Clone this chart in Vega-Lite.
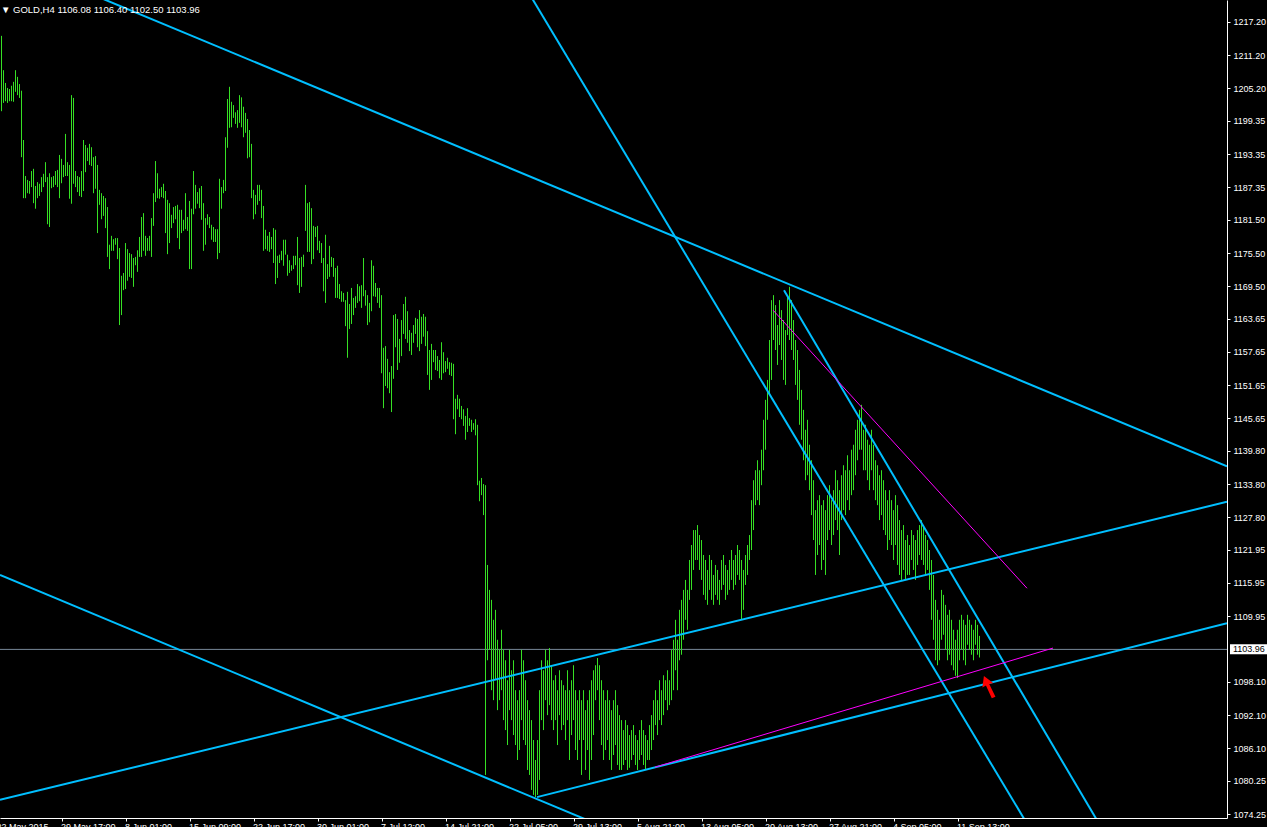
{
"$schema": "https://vega.github.io/schema/vega-lite/v6.json",
"width": 1227, "height": 818,
"autosize": {"type": "none"},
"padding": {"left": 0, "top": 0, "right": 40, "bottom": 9},
"background": "#000000",
"config": {"view": {"stroke": null}, "font": "Liberation Sans"},
"title": {"text": "▼ GOLD,H4  1106.08 1106.40 1102.50 1103.96", "anchor": "start", "frame": "group", "orient": "top", "offset": 0, "baseline": "top", "dy": 14, "dx": 1, "font": "Liberation Sans", "fontSize": 9.5, "fontWeight": "normal", "color": "#ffffff"},
"encoding": {
 "x": {"field": "i", "type": "quantitative", "scale": {"domain": [-0.75, 612.75], "nice": false, "zero": false},
  "axis": {"orient": "bottom", "title": null, "grid": false, "domainColor": "#ffffff", "tickColor": {"condition": {"test": "datum.value < 0", "value": "transparent"}, "value": "#ffffff"}, "tickSize": 3, "labelColor": "#ffffff", "labelFont": "Liberation Sans", "labelFontSize": 9, "labelAlign": "left", "labelBaseline": "top", "labelPadding": 1, "labelOffset": {"condition": {"test": "datum.value < 0", "value": -4}, "value": -1}, "labelOverlap": false, "labelBound": false, "labelFlush": false,
   "values": [-0.75, 30, 62, 94, 126, 158, 190, 222, 254, 286, 318, 350, 382, 414, 446, 478],
   "labelExpr": "datum.value < 0 ? '22 May 2015' : ['29 May 17:00','8 Jun 01:00','15 Jun 09:00','22 Jun 17:00','30 Jun 01:00','7 Jul 12:00','14 Jul 21:00','22 Jul 05:00','29 Jul 13:00','5 Aug 21:00','13 Aug 05:00','20 Aug 13:00','27 Aug 21:00','4 Sep 05:00','11 Sep 13:00'][round((datum.value - 30) / 32)]"}},
 "y": {"field": "p", "type": "quantitative", "scale": {"domain": [1073.53, 1221.17], "nice": false, "zero": false},
  "axis": {"orient": "right", "title": null, "grid": false, "domainColor": "#ffffff", "tickColor": "#ffffff", "tickSize": 3, "labelColor": "#ffffff", "labelFont": "Liberation Sans", "labelFontSize": 9, "labelPadding": 3, "labelBaseline": "middle", "labelOverlap": false, "labelBound": false, "labelFlush": false, "format": ".2f",
   "values": [1217.20, 1211.20, 1205.20, 1199.35, 1193.35, 1187.35, 1181.50, 1175.50, 1169.50, 1163.65, 1157.65, 1151.65, 1145.65, 1139.80, 1133.80, 1127.80, 1121.95, 1115.95, 1109.95, 1098.10, 1092.10, 1086.10, 1080.25, 1074.25]}}
},
"layer": [
 {"data": {"values": [{"p": 1103.96, "i": -0.75, "i2": 612.75}]}, "mark": {"type": "rule", "color": "#778899", "strokeWidth": 1}, "encoding": {"x2": {"field": "i2"}}},
 {"data": {"values": [
{"i":0,"p":1214.7,"p2":1201.1},{"i":1,"p":1208.5,"p2":1202.6},{"i":2,"p":1206.2,"p2":1202.9},{"i":3,"p":1205.3,"p2":1202.6},{"i":4,"p":1205.1,"p2":1202.9},{"i":5,"p":1205.7,"p2":1202.9},{"i":6,"p":1206.4,"p2":1202.8},{"i":7,"p":1208.5,"p2":1204.6},{"i":8,"p":1207.3,"p2":1204.0},{"i":9,"p":1206.0,"p2":1203.5},
{"i":10,"p":1204.8,"p2":1192.8},{"i":11,"p":1195.9,"p2":1185.4},{"i":12,"p":1189.4,"p2":1185.4},{"i":13,"p":1188.7,"p2":1186.3},{"i":14,"p":1188.5,"p2":1186.2},{"i":15,"p":1190.3,"p2":1187.4},{"i":16,"p":1190.7,"p2":1184.5},{"i":17,"p":1187.6,"p2":1183.5},{"i":18,"p":1188.3,"p2":1185.4},{"i":19,"p":1188.0,"p2":1185.8},
{"i":20,"p":1189.2,"p2":1186.5},{"i":21,"p":1189.8,"p2":1187.4},{"i":22,"p":1191.9,"p2":1188.3},{"i":23,"p":1189.2,"p2":1180.7},{"i":24,"p":1189.9,"p2":1180.2},{"i":25,"p":1189.2,"p2":1187.2},{"i":26,"p":1189.4,"p2":1187.4},{"i":27,"p":1190.3,"p2":1187.8},{"i":28,"p":1190.5,"p2":1187.4},{"i":29,"p":1193.2,"p2":1185.4},
{"i":30,"p":1192.5,"p2":1188.1},{"i":31,"p":1191.4,"p2":1189.2},{"i":32,"p":1197.0,"p2":1189.4},{"i":33,"p":1191.9,"p2":1189.4},{"i":34,"p":1191.4,"p2":1185.3},{"i":35,"p":1204.0,"p2":1184.4},{"i":36,"p":1203.5,"p2":1188.0},{"i":37,"p":1190.3,"p2":1187.4},{"i":38,"p":1189.4,"p2":1186.5},{"i":39,"p":1189.2,"p2":1185.8},
{"i":40,"p":1190.3,"p2":1185.6},{"i":41,"p":1195.9,"p2":1186.7},{"i":42,"p":1195.0,"p2":1190.1},{"i":43,"p":1194.5,"p2":1192.1},{"i":44,"p":1195.2,"p2":1191.4},{"i":45,"p":1194.6,"p2":1191.2},{"i":46,"p":1192.8,"p2":1186.3},{"i":47,"p":1193.0,"p2":1187.1},{"i":48,"p":1191.4,"p2":1179.1},{"i":49,"p":1186.9,"p2":1184.2},
{"i":50,"p":1186.3,"p2":1181.6},{"i":51,"p":1185.8,"p2":1182.2},{"i":52,"p":1185.4,"p2":1180.0},{"i":53,"p":1183.8,"p2":1174.8},{"i":54,"p":1177.0,"p2":1172.6},{"i":55,"p":1178.6,"p2":1175.9},{"i":56,"p":1178.0,"p2":1175.9},{"i":57,"p":1178.2,"p2":1177.0},{"i":58,"p":1178.2,"p2":1174.4},{"i":59,"p":1176.4,"p2":1162.5},
{"i":60,"p":1171.4,"p2":1164.3},{"i":61,"p":1171.9,"p2":1168.8},{"i":62,"p":1177.3,"p2":1169.0},{"i":63,"p":1176.2,"p2":1170.5},{"i":64,"p":1175.5,"p2":1171.2},{"i":65,"p":1175.3,"p2":1171.0},{"i":66,"p":1174.6,"p2":1169.4},{"i":67,"p":1174.8,"p2":1173.3},{"i":68,"p":1176.0,"p2":1172.1},{"i":69,"p":1178.4,"p2":1174.8},
{"i":70,"p":1182.0,"p2":1174.8},{"i":71,"p":1182.7,"p2":1175.9},{"i":72,"p":1178.6,"p2":1175.0},{"i":73,"p":1178.2,"p2":1175.9},{"i":74,"p":1178.6,"p2":1175.9},{"i":75,"p":1181.8,"p2":1174.8},{"i":76,"p":1186.3,"p2":1180.4},{"i":77,"p":1192.1,"p2":1184.7},{"i":78,"p":1189.9,"p2":1185.4},{"i":79,"p":1187.1,"p2":1185.3},
{"i":80,"p":1187.4,"p2":1185.6},{"i":81,"p":1188.0,"p2":1185.4},{"i":82,"p":1186.7,"p2":1179.1},{"i":83,"p":1185.1,"p2":1175.3},{"i":84,"p":1184.5,"p2":1177.3},{"i":85,"p":1182.4,"p2":1180.0},{"i":86,"p":1183.8,"p2":1180.9},{"i":87,"p":1184.0,"p2":1181.6},{"i":88,"p":1184.2,"p2":1178.2},{"i":89,"p":1183.3,"p2":1176.2},
{"i":90,"p":1183.3,"p2":1179.1},{"i":91,"p":1181.5,"p2":1179.5},{"i":92,"p":1186.3,"p2":1179.8},{"i":93,"p":1182.0,"p2":1179.5},{"i":94,"p":1184.9,"p2":1172.6},{"i":95,"p":1183.5,"p2":1172.6},{"i":96,"p":1190.3,"p2":1182.5},{"i":97,"p":1187.8,"p2":1183.5},{"i":98,"p":1186.5,"p2":1184.4},{"i":99,"p":1187.2,"p2":1183.6},
{"i":100,"p":1187.6,"p2":1181.5},{"i":101,"p":1184.5,"p2":1175.9},{"i":102,"p":1181.8,"p2":1177.0},{"i":103,"p":1182.5,"p2":1180.6},{"i":104,"p":1182.0,"p2":1180.0},{"i":105,"p":1180.6,"p2":1177.9},{"i":106,"p":1180.2,"p2":1177.5},{"i":107,"p":1179.8,"p2":1177.5},{"i":108,"p":1179.8,"p2":1174.4},{"i":109,"p":1188.9,"p2":1175.5},
{"i":110,"p":1187.4,"p2":1183.5},{"i":111,"p":1188.7,"p2":1186.3},{"i":112,"p":1196.4,"p2":1186.7},{"i":113,"p":1203.3,"p2":1194.5},{"i":114,"p":1205.5,"p2":1198.1},{"i":115,"p":1202.8,"p2":1198.2},{"i":116,"p":1202.2,"p2":1199.9},{"i":117,"p":1200.9,"p2":1198.8},{"i":118,"p":1201.3,"p2":1198.1},{"i":119,"p":1204.0,"p2":1199.0},
{"i":120,"p":1203.6,"p2":1198.2},{"i":121,"p":1201.9,"p2":1196.4},{"i":122,"p":1200.8,"p2":1197.2},{"i":123,"p":1199.7,"p2":1192.6},{"i":124,"p":1197.7,"p2":1192.8},{"i":125,"p":1195.2,"p2":1185.4},{"i":126,"p":1186.9,"p2":1181.6},{"i":127,"p":1186.0,"p2":1182.5},{"i":128,"p":1187.8,"p2":1184.2},{"i":129,"p":1187.8,"p2":1184.9},
{"i":130,"p":1186.9,"p2":1181.8},{"i":131,"p":1184.0,"p2":1175.9},{"i":132,"p":1179.7,"p2":1176.2},{"i":133,"p":1178.6,"p2":1175.9},{"i":134,"p":1179.3,"p2":1175.7},{"i":135,"p":1178.4,"p2":1176.2},{"i":136,"p":1180.0,"p2":1173.7},{"i":137,"p":1179.7,"p2":1169.9},{"i":138,"p":1175.0,"p2":1171.0},{"i":139,"p":1175.2,"p2":1173.7},
{"i":140,"p":1175.9,"p2":1174.2},{"i":141,"p":1177.9,"p2":1173.2},{"i":142,"p":1177.9,"p2":1175.2},{"i":143,"p":1175.2,"p2":1171.4},{"i":144,"p":1174.2,"p2":1171.9},{"i":145,"p":1173.3,"p2":1172.3},{"i":146,"p":1175.0,"p2":1172.6},{"i":147,"p":1175.0,"p2":1173.3},{"i":148,"p":1178.4,"p2":1169.7},{"i":149,"p":1174.6,"p2":1168.3},
{"i":150,"p":1174.8,"p2":1169.4},{"i":151,"p":1175.2,"p2":1173.0},{"i":152,"p":1187.8,"p2":1179.5},{"i":153,"p":1184.5,"p2":1175.7},{"i":154,"p":1184.7,"p2":1175.7},{"i":155,"p":1183.6,"p2":1173.5},{"i":156,"p":1180.4,"p2":1174.4},{"i":157,"p":1180.2,"p2":1178.4},{"i":158,"p":1180.4,"p2":1176.0},{"i":159,"p":1177.7,"p2":1175.5},
{"i":160,"p":1177.3,"p2":1173.7},{"i":161,"p":1174.6,"p2":1168.6},{"i":162,"p":1178.8,"p2":1166.5},{"i":163,"p":1173.5,"p2":1170.8},{"i":164,"p":1176.8,"p2":1171.2},{"i":165,"p":1174.8,"p2":1173.0},{"i":166,"p":1174.6,"p2":1171.2},{"i":167,"p":1172.8,"p2":1167.4},{"i":168,"p":1173.2,"p2":1167.4},{"i":169,"p":1169.9,"p2":1167.2},
{"i":170,"p":1168.6,"p2":1166.7},{"i":171,"p":1168.3,"p2":1166.7},{"i":172,"p":1167.0,"p2":1162.3},{"i":173,"p":1168.5,"p2":1156.6},{"i":174,"p":1166.3,"p2":1161.8},{"i":175,"p":1169.2,"p2":1162.7},{"i":176,"p":1167.4,"p2":1164.3},{"i":177,"p":1167.7,"p2":1165.6},{"i":178,"p":1169.9,"p2":1166.5},{"i":179,"p":1169.5,"p2":1166.8},
{"i":180,"p":1169.7,"p2":1165.6},{"i":181,"p":1174.6,"p2":1167.7},{"i":182,"p":1168.8,"p2":1166.0},{"i":183,"p":1167.9,"p2":1162.5},{"i":184,"p":1166.5,"p2":1163.0},{"i":185,"p":1174.2,"p2":1165.0},{"i":186,"p":1173.2,"p2":1167.7},{"i":187,"p":1170.1,"p2":1167.6},{"i":188,"p":1169.2,"p2":1166.5},{"i":189,"p":1169.2,"p2":1165.6},
{"i":190,"p":1167.9,"p2":1153.8},{"i":191,"p":1158.4,"p2":1147.5},{"i":192,"p":1158.7,"p2":1151.5},{"i":193,"p":1156.4,"p2":1151.1},{"i":194,"p":1154.0,"p2":1150.2},{"i":195,"p":1155.1,"p2":1146.8},{"i":196,"p":1164.3,"p2":1152.8},{"i":197,"p":1164.5,"p2":1158.5},{"i":198,"p":1163.6,"p2":1154.4},{"i":199,"p":1160.0,"p2":1155.7},
{"i":200,"p":1163.4,"p2":1156.9},{"i":201,"p":1166.3,"p2":1160.9},{"i":202,"p":1167.6,"p2":1160.0},{"i":203,"p":1165.0,"p2":1159.3},{"i":204,"p":1161.6,"p2":1157.8},{"i":205,"p":1161.1,"p2":1157.1},{"i":206,"p":1162.5,"p2":1159.3},{"i":207,"p":1163.8,"p2":1160.9},{"i":208,"p":1163.6,"p2":1158.5},{"i":209,"p":1165.2,"p2":1157.8},
{"i":210,"p":1164.0,"p2":1159.1},{"i":211,"p":1164.5,"p2":1160.4},{"i":212,"p":1164.0,"p2":1158.7},{"i":213,"p":1161.4,"p2":1153.5},{"i":214,"p":1158.0,"p2":1150.8},{"i":215,"p":1159.1,"p2":1152.6},{"i":216,"p":1158.0,"p2":1155.8},{"i":217,"p":1158.0,"p2":1154.4},{"i":218,"p":1156.9,"p2":1154.2},{"i":219,"p":1156.2,"p2":1152.9},
{"i":220,"p":1159.4,"p2":1152.6},{"i":221,"p":1157.6,"p2":1153.8},{"i":222,"p":1156.0,"p2":1154.0},{"i":223,"p":1156.6,"p2":1154.6},{"i":224,"p":1155.8,"p2":1153.5},{"i":225,"p":1155.7,"p2":1153.3},{"i":226,"p":1155.5,"p2":1145.5},{"i":227,"p":1149.2,"p2":1142.8},{"i":228,"p":1149.9,"p2":1147.3},{"i":229,"p":1149.2,"p2":1145.9},
{"i":230,"p":1147.9,"p2":1145.5},{"i":231,"p":1147.3,"p2":1144.3},{"i":232,"p":1146.1,"p2":1141.8},{"i":233,"p":1147.5,"p2":1143.2},{"i":234,"p":1145.7,"p2":1144.3},{"i":235,"p":1145.4,"p2":1143.2},{"i":236,"p":1144.8,"p2":1143.6},{"i":237,"p":1145.5,"p2":1142.6},{"i":238,"p":1144.5,"p2":1133.6},{"i":239,"p":1134.4,"p2":1130.7},
{"i":240,"p":1134.9,"p2":1131.8},{"i":241,"p":1133.8,"p2":1128.2},{"i":242,"p":1133.6,"p2":1081.3},{"i":243,"p":1119.2,"p2":1102.0},{"i":244,"p":1114.7,"p2":1103.9},{"i":245,"p":1112.9,"p2":1096.6},{"i":246,"p":1109.3,"p2":1094.8},{"i":247,"p":1111.1,"p2":1098.4},{"i":248,"p":1105.7,"p2":1093.0},{"i":249,"p":1103.9,"p2":1094.8},
{"i":250,"p":1107.5,"p2":1096.6},{"i":251,"p":1103.9,"p2":1091.2},{"i":252,"p":1102.0,"p2":1089.4},{"i":253,"p":1098.4,"p2":1086.7},{"i":254,"p":1103.9,"p2":1093.0},{"i":255,"p":1100.2,"p2":1091.2},{"i":256,"p":1102.0,"p2":1088.5},{"i":257,"p":1096.6,"p2":1086.7},{"i":258,"p":1094.8,"p2":1084.0},{"i":259,"p":1096.6,"p2":1085.8},
{"i":260,"p":1103.9,"p2":1091.2},{"i":261,"p":1102.0,"p2":1087.6},{"i":262,"p":1098.4,"p2":1086.7},{"i":263,"p":1094.8,"p2":1082.2},{"i":264,"p":1093.0,"p2":1081.3},{"i":265,"p":1091.2,"p2":1078.6},{"i":266,"p":1087.6,"p2":1077.7},{"i":267,"p":1084.0,"p2":1077.3},{"i":268,"p":1087.6,"p2":1077.7},{"i":269,"p":1096.6,"p2":1080.4},
{"i":270,"p":1102.0,"p2":1091.2},{"i":271,"p":1100.2,"p2":1089.4},{"i":272,"p":1103.9,"p2":1094.8},{"i":273,"p":1102.0,"p2":1092.1},{"i":274,"p":1104.2,"p2":1093.9},{"i":275,"p":1101.1,"p2":1091.2},{"i":276,"p":1098.4,"p2":1089.4},{"i":277,"p":1099.3,"p2":1091.2},{"i":278,"p":1096.6,"p2":1086.7},{"i":279,"p":1100.2,"p2":1092.1},
{"i":280,"p":1098.4,"p2":1089.4},{"i":281,"p":1097.5,"p2":1090.3},{"i":282,"p":1096.6,"p2":1087.6},{"i":283,"p":1100.2,"p2":1091.2},{"i":284,"p":1096.6,"p2":1084.0},{"i":285,"p":1098.4,"p2":1088.5},{"i":286,"p":1101.1,"p2":1091.2},{"i":287,"p":1096.6,"p2":1085.8},{"i":288,"p":1094.8,"p2":1084.0},{"i":289,"p":1096.6,"p2":1087.6},
{"i":290,"p":1094.8,"p2":1081.3},{"i":291,"p":1096.6,"p2":1087.6},{"i":292,"p":1093.0,"p2":1082.2},{"i":293,"p":1094.8,"p2":1085.8},{"i":294,"p":1096.6,"p2":1080.4},{"i":295,"p":1098.4,"p2":1084.0},{"i":296,"p":1100.2,"p2":1088.5},{"i":297,"p":1101.1,"p2":1094.8},{"i":298,"p":1102.4,"p2":1096.6},{"i":299,"p":1101.1,"p2":1091.2},
{"i":300,"p":1098.4,"p2":1086.7},{"i":301,"p":1096.6,"p2":1084.0},{"i":302,"p":1094.8,"p2":1085.8},{"i":303,"p":1096.6,"p2":1087.6},{"i":304,"p":1094.8,"p2":1084.0},{"i":305,"p":1093.0,"p2":1082.2},{"i":306,"p":1094.8,"p2":1084.9},{"i":307,"p":1096.6,"p2":1086.7},{"i":308,"p":1093.9,"p2":1083.1},{"i":309,"p":1092.1,"p2":1082.2},
{"i":310,"p":1091.2,"p2":1082.2},{"i":311,"p":1089.4,"p2":1083.1},{"i":312,"p":1091.2,"p2":1084.0},{"i":313,"p":1090.3,"p2":1082.2},{"i":314,"p":1088.5,"p2":1082.6},{"i":315,"p":1089.4,"p2":1084.0},{"i":316,"p":1090.3,"p2":1084.9},{"i":317,"p":1088.5,"p2":1083.1},{"i":318,"p":1087.6,"p2":1082.2},{"i":319,"p":1089.4,"p2":1084.0},
{"i":320,"p":1091.2,"p2":1084.9},{"i":321,"p":1089.4,"p2":1083.1},{"i":322,"p":1088.5,"p2":1082.2},{"i":323,"p":1087.6,"p2":1084.0},{"i":324,"p":1090.3,"p2":1084.0},{"i":325,"p":1092.1,"p2":1085.8},{"i":326,"p":1094.8,"p2":1087.6},{"i":327,"p":1096.6,"p2":1090.3},{"i":328,"p":1094.8,"p2":1088.5},{"i":329,"p":1098.4,"p2":1091.2},
{"i":330,"p":1096.6,"p2":1090.3},{"i":331,"p":1099.3,"p2":1092.1},{"i":332,"p":1098.4,"p2":1094.8},{"i":333,"p":1100.2,"p2":1093.0},{"i":334,"p":1098.4,"p2":1093.9},{"i":335,"p":1103.9,"p2":1094.8},{"i":336,"p":1105.7,"p2":1096.6},{"i":337,"p":1109.3,"p2":1100.2},{"i":338,"p":1105.7,"p2":1096.6},{"i":339,"p":1111.1,"p2":1102.0},
{"i":340,"p":1112.9,"p2":1103.0},{"i":341,"p":1114.7,"p2":1105.7},{"i":342,"p":1116.5,"p2":1109.3},{"i":343,"p":1114.7,"p2":1107.5},{"i":344,"p":1120.1,"p2":1112.9},{"i":345,"p":1122.8,"p2":1114.7},{"i":346,"p":1125.5,"p2":1118.3},{"i":347,"p":1125.5,"p2":1120.1},{"i":348,"p":1126.4,"p2":1120.1},{"i":349,"p":1124.6,"p2":1118.3},
{"i":350,"p":1123.7,"p2":1116.5},{"i":351,"p":1121.0,"p2":1113.8},{"i":352,"p":1120.1,"p2":1112.9},{"i":353,"p":1118.3,"p2":1112.0},{"i":354,"p":1121.0,"p2":1114.7},{"i":355,"p":1120.1,"p2":1112.9},{"i":356,"p":1117.4,"p2":1112.0},{"i":357,"p":1119.2,"p2":1113.8},{"i":358,"p":1118.3,"p2":1112.9},{"i":359,"p":1116.5,"p2":1112.0},
{"i":360,"p":1120.1,"p2":1114.7},{"i":361,"p":1121.0,"p2":1115.6},{"i":362,"p":1119.2,"p2":1112.9},{"i":363,"p":1118.3,"p2":1113.8},{"i":364,"p":1120.1,"p2":1114.7},{"i":365,"p":1121.9,"p2":1116.5},{"i":366,"p":1120.1,"p2":1114.7},{"i":367,"p":1121.0,"p2":1115.6},{"i":368,"p":1122.8,"p2":1117.4},{"i":369,"p":1121.9,"p2":1116.5},
{"i":370,"p":1120.1,"p2":1109.3},{"i":371,"p":1118.3,"p2":1111.1},{"i":372,"p":1121.0,"p2":1115.6},{"i":373,"p":1122.8,"p2":1117.4},{"i":374,"p":1124.6,"p2":1120.1},{"i":375,"p":1130.9,"p2":1121.9},{"i":376,"p":1134.5,"p2":1125.5},{"i":377,"p":1136.3,"p2":1130.0},{"i":378,"p":1138.1,"p2":1130.9},{"i":379,"p":1136.3,"p2":1130.0},
{"i":380,"p":1140.0,"p2":1133.6},{"i":381,"p":1145.4,"p2":1136.3},{"i":382,"p":1149.0,"p2":1140.0},{"i":383,"p":1152.6,"p2":1145.4},{"i":384,"p":1159.8,"p2":1149.9},{"i":385,"p":1167.0,"p2":1152.6},{"i":386,"p":1167.9,"p2":1159.8},{"i":387,"p":1166.1,"p2":1158.0},{"i":388,"p":1162.5,"p2":1155.3},{"i":389,"p":1167.0,"p2":1158.9},
{"i":390,"p":1165.2,"p2":1156.2},{"i":391,"p":1163.4,"p2":1152.6},{"i":392,"p":1161.6,"p2":1151.7},{"i":393,"p":1167.9,"p2":1160.7},{"i":394,"p":1169.4,"p2":1159.8},{"i":395,"p":1167.0,"p2":1158.0},{"i":396,"p":1163.4,"p2":1156.2},{"i":397,"p":1159.8,"p2":1151.7},{"i":398,"p":1158.0,"p2":1149.0},{"i":399,"p":1154.4,"p2":1144.5},
{"i":400,"p":1150.8,"p2":1141.8},{"i":401,"p":1147.2,"p2":1138.1},{"i":402,"p":1143.6,"p2":1134.5},{"i":403,"p":1145.4,"p2":1135.4},{"i":404,"p":1140.9,"p2":1132.7},{"i":405,"p":1138.1,"p2":1128.2},{"i":406,"p":1134.5,"p2":1123.7},{"i":407,"p":1129.1,"p2":1117.4},{"i":408,"p":1130.9,"p2":1121.0},{"i":409,"p":1131.8,"p2":1122.8},
{"i":410,"p":1130.0,"p2":1118.3},{"i":411,"p":1130.9,"p2":1120.1},{"i":412,"p":1129.1,"p2":1117.4},{"i":413,"p":1131.8,"p2":1123.7},{"i":414,"p":1133.6,"p2":1125.5},{"i":415,"p":1130.9,"p2":1122.8},{"i":416,"p":1132.7,"p2":1124.6},{"i":417,"p":1136.3,"p2":1127.3},{"i":418,"p":1134.5,"p2":1125.5},{"i":419,"p":1132.7,"p2":1121.0},
{"i":420,"p":1135.4,"p2":1127.3},{"i":421,"p":1137.2,"p2":1129.1},{"i":422,"p":1136.3,"p2":1128.2},{"i":423,"p":1139.0,"p2":1130.9},{"i":424,"p":1136.3,"p2":1129.1},{"i":425,"p":1140.0,"p2":1131.8},{"i":426,"p":1140.9,"p2":1132.7},{"i":427,"p":1143.6,"p2":1135.4},{"i":428,"p":1145.4,"p2":1138.1},{"i":429,"p":1147.2,"p2":1140.0},
{"i":430,"p":1148.1,"p2":1140.0},{"i":431,"p":1143.6,"p2":1136.3},{"i":432,"p":1144.5,"p2":1136.3},{"i":433,"p":1141.8,"p2":1134.5},{"i":434,"p":1140.9,"p2":1132.7},{"i":435,"p":1143.6,"p2":1136.3},{"i":436,"p":1140.9,"p2":1132.7},{"i":437,"p":1138.1,"p2":1130.9},{"i":438,"p":1137.2,"p2":1130.0},{"i":439,"p":1135.4,"p2":1127.3},
{"i":440,"p":1136.3,"p2":1128.2},{"i":441,"p":1134.5,"p2":1125.5},{"i":442,"p":1132.7,"p2":1124.6},{"i":443,"p":1130.9,"p2":1121.9},{"i":444,"p":1132.7,"p2":1123.7},{"i":445,"p":1130.9,"p2":1122.8},{"i":446,"p":1129.1,"p2":1120.1},{"i":447,"p":1131.8,"p2":1122.8},{"i":448,"p":1130.0,"p2":1119.2},{"i":449,"p":1127.3,"p2":1117.4},
{"i":450,"p":1125.5,"p2":1116.5},{"i":451,"p":1126.4,"p2":1118.3},{"i":452,"p":1123.7,"p2":1116.5},{"i":453,"p":1124.6,"p2":1117.4},{"i":454,"p":1122.8,"p2":1117.4},{"i":455,"p":1125.5,"p2":1120.1},{"i":456,"p":1124.6,"p2":1118.3},{"i":457,"p":1123.7,"p2":1116.5},{"i":458,"p":1125.5,"p2":1119.2},{"i":459,"p":1126.4,"p2":1121.0},
{"i":460,"p":1127.3,"p2":1120.1},{"i":461,"p":1126.4,"p2":1119.2},{"i":462,"p":1124.6,"p2":1117.4},{"i":463,"p":1123.7,"p2":1118.3},{"i":464,"p":1121.9,"p2":1114.7},{"i":465,"p":1120.1,"p2":1109.3},{"i":466,"p":1117.4,"p2":1105.7},{"i":467,"p":1112.9,"p2":1102.0},{"i":468,"p":1111.1,"p2":1101.1},{"i":469,"p":1109.3,"p2":1102.0},
{"i":470,"p":1114.7,"p2":1105.7},{"i":471,"p":1113.8,"p2":1106.6},{"i":472,"p":1112.0,"p2":1103.9},{"i":473,"p":1110.2,"p2":1102.0},{"i":474,"p":1111.1,"p2":1103.0},{"i":475,"p":1109.3,"p2":1101.1},{"i":476,"p":1107.5,"p2":1100.2},{"i":477,"p":1105.7,"p2":1099.2},{"i":478,"p":1107.5,"p2":1098.8},{"i":479,"p":1109.3,"p2":1102.0},
{"i":480,"p":1110.2,"p2":1103.9},{"i":481,"p":1109.3,"p2":1102.0},{"i":482,"p":1108.4,"p2":1101.1},{"i":483,"p":1110.2,"p2":1104.8},{"i":484,"p":1109.3,"p2":1103.9},{"i":485,"p":1108.4,"p2":1103.0},{"i":486,"p":1107.5,"p2":1102.0},{"i":487,"p":1109.3,"p2":1104.8},{"i":488,"p":1108.4,"p2":1103.0},{"i":489,"p":1106.4,"p2":1102.5}
 ]}, "mark": {"type": "rule", "color": "#36e024", "strokeWidth": 1}, "encoding": {"y2": {"field": "p2"}}},
 {"data": {"values": [
  {"i": -0.75, "p": 1229.1, "i2": 612.75, "p2": 1137.0},
  {"i": 259.25, "p": 1225.1, "i2": 519.25, "p2": 1068.6},
  {"i": 391.25, "p": 1168.8, "i2": 550.75, "p2": 1071.3},
  {"i": -0.75, "p": 1117.4, "i2": 299.25, "p2": 1072.2},
  {"i": -0.75, "p": 1076.8, "i2": 612.75, "p2": 1130.6},
  {"i": 267.75, "p": 1077.3, "i2": 612.75, "p2": 1108.7}
 ]}, "mark": {"type": "rule", "color": "#00bfff", "strokeWidth": 2, "clip": true}, "encoding": {"x2": {"field": "i2"}, "y2": {"field": "p2"}}},
 {"data": {"values": [
  {"i": 385.75, "p": 1165.2, "i2": 512.75, "p2": 1115.0},
  {"i": 326.75, "p": 1082.7, "i2": 525.75, "p2": 1104.2}
 ]}, "mark": {"type": "rule", "color": "#ff00ff", "strokeWidth": 1, "clip": true}, "encoding": {"x2": {"field": "i2"}, "y2": {"field": "p2"}}},
 {"data": {"values": [{"i": 493.5, "p": 1097.2}]}, "mark": {"type": "point", "shape": "M0,-1 L0.5,-0.15 L0.15,-0.2 L0.22,1 L-0.12,1 L-0.15,-0.2 L-0.5,-0.15 Z", "angle": -23, "size": 550, "filled": true, "color": "#ff0000", "opacity": 1}},
 {"data": {"values": [{"i": 614.25, "i2": 632.75, "p": 1104.9, "p2": 1103.1}]}, "mark": {"type": "rect", "color": "#ffffff"}, "encoding": {"x2": {"field": "i2"}, "y2": {"field": "p2"}}},
 {"data": {"values": [{"i": 615.75, "p": 1103.96, "label": "1103.96"}]}, "mark": {"type": "text", "align": "left", "baseline": "middle", "color": "#000000", "font": "Liberation Sans", "fontSize": 9}, "encoding": {"text": {"field": "label"}}}
]
}
